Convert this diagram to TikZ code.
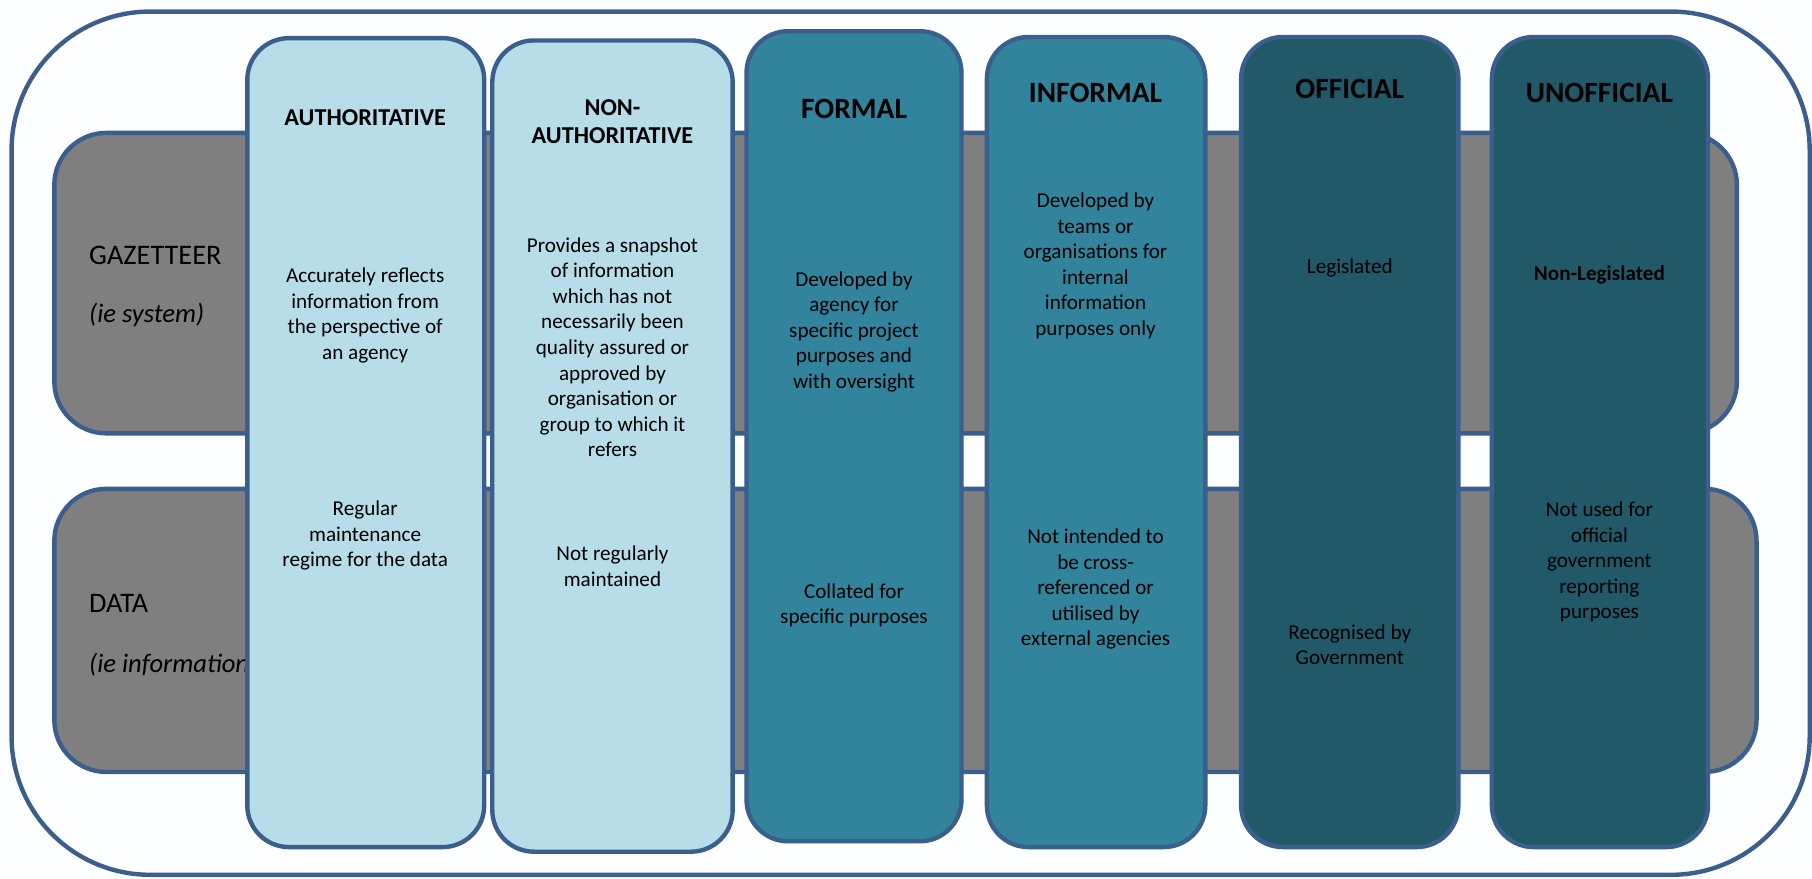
\documentclass[tikz,border=0pt]{standalone}
\usepackage{fontspec}
\setmainfont{Carlito}
\definecolor{bord}{HTML}{3A5F8D}
\definecolor{barGray}{HTML}{7F7F7F}
\definecolor{lightBlue}{HTML}{B7DDE8}
\definecolor{tealMid}{HTML}{31849B}
\definecolor{tealDark}{HTML}{215968}
\definecolor{bgWhite}{HTML}{FCFEFF}
\begin{document}
\begin{tikzpicture}[x=1pt,y=-1pt,
  frame/.style={draw=bord, line width=3.8pt},
  bar/.style={frame, fill=barGray, rounded corners=45pt},
  col/.style={frame, rounded corners=36pt},
  body/.style={align=center, font=\fontsize{18.3}{22.1}\selectfont, text=black, inner sep=0pt},
  headbig/.style={align=center, font=\bfseries\fontsize{25.5}{30}\selectfont, inner sep=0pt},
  headsmall/.style={align=center, font=\bfseries\fontsize{21}{24.5}\selectfont, inner sep=0pt},
  side/.style={anchor=west, font=\fontsize{24.5}{28}\selectfont, inner sep=0pt},
  sideit/.style={anchor=west, font=\itshape\fontsize{23}{28}\selectfont, inner sep=0pt}]
\useasboundingbox (0,0) rectangle (1568,760);
\fill[bgWhite] (0,0) rectangle (1568,760);
% outer frame
\draw[frame, fill=bgWhite, rounded corners=120pt] (10,10) rectangle (1566,757);
% bars
\draw[bar] (47,115) rectangle (1503,375);
\draw[bar] (47,423) rectangle (1520,668);
% side labels
\node[side] (gaz) at (77,221) {GAZETTEER};
\node[sideit] (gazsub) at (77,272.5) {(ie system)};
\node[side] (dat) at (77,522) {DATA};
\node[sideit] (datsub) at (77,575.5) {(ie information)};
% columns
\draw[col, fill=lightBlue] (214,33) rectangle (419,733);
\draw[col, fill=lightBlue] (426,35) rectangle (634,737);
\draw[col, fill=tealMid] (646,27) rectangle (832,728);
\draw[col, fill=tealMid] (854,32) rectangle (1043,733);
\draw[col, fill=tealDark] (1074,32) rectangle (1262,733);
\draw[col, fill=tealDark] (1291,32) rectangle (1478,733);
% headers
\node[headsmall] (hauth) at (316,102) {AUTHORITATIVE};
\node[headsmall] (hnonauth) at (530,105.5) {NON-\\AUTHORITATIVE};
\node[headbig] (hformal) at (739,94) {FORMAL};
\node[headbig] (hinformal) at (948,80) {INFORMAL};
\node[headbig] (hofficial) at (1168,77) {OFFICIAL};
\node[headbig] (hunofficial) at (1384,80) {UNOFFICIAL};
% gazetteer texts
\node[body] (ag) at (316,273) {Accurately reflects\\information from\\the perspective of\\an agency};
\node[body] (ng) at (530,300.5) {Provides a snapshot\\of information\\which has not\\necessarily been\\quality assured or\\approved by\\organisation or\\group to which it\\refers};
\node[body] (fg) at (739,287) {Developed by\\agency for\\specific project\\purposes and\\with oversight};
\node[body] (ig) at (948,230) {Developed by\\teams or\\organisations for\\internal\\information\\purposes only};
\node[body] (og) at (1168,232) {Legislated};
\node[body, font=\bfseries\fontsize{18.3}{22.1}\selectfont] (ug) at (1384,238) {Non-Legislated};
% data texts
\node[body] (ad) at (316,463.5) {Regular\\maintenance\\regime for the data};
\node[body] (nd) at (530,490) {Not regularly\\maintained};
\node[body] (fd) at (739,524) {Collated for\\specific purposes};
\node[body] (id) at (948,510) {Not intended to\\be cross-\\referenced or\\utilised by\\external agencies};
\node[body] (od) at (1168,558) {Recognised by\\Government};
\node[body] (ud) at (1384,486.5) {Not used for\\official\\government\\reporting\\purposes};
\end{tikzpicture}
\end{document}
